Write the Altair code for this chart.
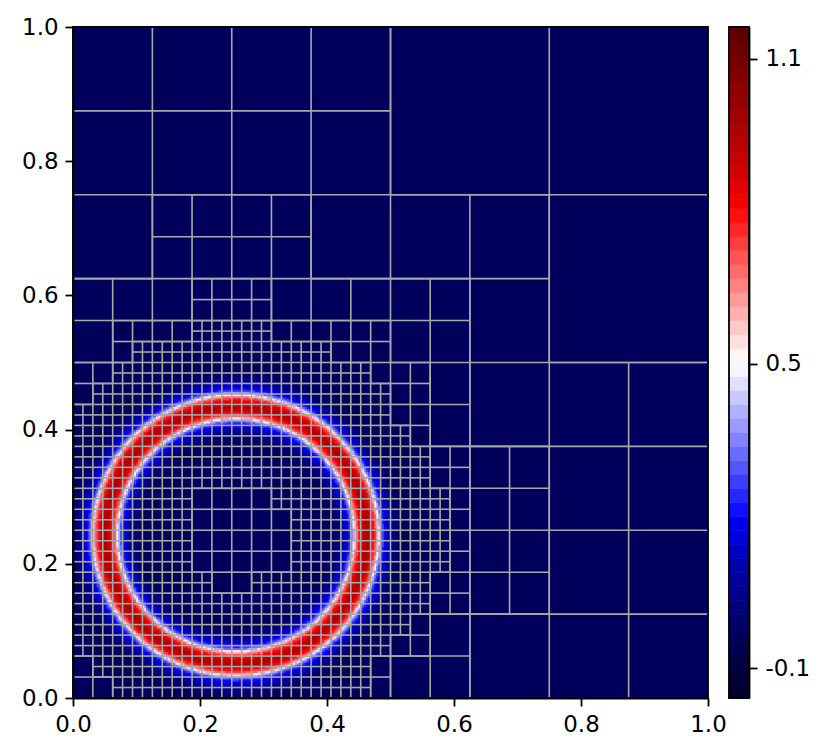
import altair as alt
import numpy as np
import pandas as pd

alt.data_transformers.disable_max_rows()

# refinement level of each 1/32 x 1/32 block, top row (y near 1) first
level_rows = [
    "33333333333333332222222222222222",
    "33333333333333332222222222222222",
    "33333333333333332222222222222222",
    "33333333333333332222222222222222",
    "33333333333333332222222222222222",
    "33333333333333332222222222222222",
    "33333333333333332222222222222222",
    "33333333333333332222222222222222",
    "33334444444433333333333322222222",
    "33334444444433333333333322222222",
    "33334444444433333333333322222222",
    "33334444444433333333333322222222",
    "44444455554444444444333322222222",
    "44444455554444444444333322222222",
    "44555566665555554444333322222222",
    "44566666666665554444333322222222",
    "55666666666666655544333333333333",
    "56666666666666665544333333333333",
    "66666666666666665544333333333333",
    "66666666666666666544333333333333",
    "66666666666666666655444433333333",
    "66666666666666666655444433333333",
    "66666655556666666665444433333333",
    "66666655555666666665444433333333",
    "66666655555666666665444433333333",
    "66666655555666666665444433333333",
    "66666665566666666655444433333333",
    "66666666666666666655444433333333",
    "66666666666666666544333333333333",
    "66666666666666665544333333333333",
    "56666666666666654444333333333333",
    "55666666666666654444333333333333",
]

# colour bands of the bar, lowest first
band_colors = [
    "#00002e", "#000038", "#000042", "#00004e", "#00005c", "#00006c", "#00007c", "#00008c",
    "#00009c", "#0000ac", "#0000c4", "#0000dc", "#0000f0", "#0f0fff", "#2626ff", "#3d3dff",
    "#5555ff", "#6b6bff", "#8383ff", "#9a9aff", "#b0b0ff", "#c9c9ff", "#dfdfff", "#f5f5ff",
    "#fff5f5", "#ffdfdf", "#ffc9c9", "#ffb0b0", "#ff9a9a", "#ff8383", "#ff6b6b", "#ff5555",
    "#ff3d3d", "#ff2626", "#ff0f0f", "#f50000", "#e30000", "#d30000", "#c80000", "#bc0000",
    "#b00000", "#a40000", "#980000", "#8c0000", "#800000", "#740000", "#6a0000", "#600000",
]
bar_min, bar_max = -0.159, 1.163
bar_ticks = [-0.1, 0.5, 1.1]
axis_ticks = [0.0, 0.2, 0.4, 0.6, 0.8, 1.0]

# ring: field value by distance from its centre
ring_center = (0.257, 0.243)
ring_squash = 0.93
ring_radius_start = 0.1415
ring_radius_step = 0.002
ring_value = [-0.03, -0.02, -0.01, 0.00, 0.02, 0.04, 0.06, 0.08, 0.10, 0.12,
              0.15, 0.18, 0.22, 0.27, 0.33, 0.41, 0.50, 0.60, 0.68, 0.74,
              0.79, 0.83, 0.87, 0.91, 0.94,
              0.96,
              0.94, 0.91, 0.87, 0.83, 0.79, 0.74, 0.68, 0.60, 0.50, 0.41,
              0.33, 0.27, 0.22, 0.18, 0.15, 0.12, 0.10, 0.08, 0.06, 0.04,
              0.02, 0.00, -0.01, -0.02, -0.03]
background_value = -0.03

PLOT_W, PLOT_H = 635, 671
FONT = "DejaVu Sans"
FS = 22.9

edges = list(np.linspace(bar_min, bar_max, len(band_colors) + 1))
color_scale = alt.Scale(type="threshold", domain=edges[1:-1], range=band_colors)

# field cells
cells = [dict(a=0, b=1, c=0, d=1, v=background_value)]
n = 320
for i in range(n):
    for j in range(n):
        xc, yc = (i + 0.5) / n, (j + 0.5) / n
        r = np.hypot((xc - ring_center[0]) * ring_squash, yc - ring_center[1])
        k = int(round((r - ring_radius_start) / ring_radius_step))
        if 0 <= k < len(ring_value):
            cells.append(dict(a=i / n, b=(i + 1) / n, c=j / n, d=(j + 1) / n, v=ring_value[k]))
field_df = pd.DataFrame(cells).round(5)

# mesh edges
segs = set()
for row_i, row in enumerate(level_rows):
    r = 31 - row_i
    for c, ch in enumerate(row):
        lev = int(ch)
        if lev == 6:
            boxes = [((c * 2 + a) / 64, (r * 2 + b) / 64, 1 / 64) for a in (0, 1) for b in (0, 1)]
        else:
            size = 2 ** (5 - lev)
            boxes = [((c // size) * size / 32, (r // size) * size / 32, size / 32)]
        for x, y, s in boxes:
            segs.add((x, y, x + s, y))
            segs.add((x, y + s, x + s, y + s))
            segs.add((x, y, x, y + s))
            segs.add((x + s, y, x + s, y + s))
segs = [s for s in segs if not (s[0] == s[2] and s[0] in (0, 1)) and not (s[1] == s[3] and s[1] in (0, 1))]
seg_df = pd.DataFrame(segs, columns=["x1", "y1", "x2", "y2"])

x_scale = alt.Scale(domain=[0, 1], nice=False, zero=False)
y_scale = alt.Scale(domain=[0, 1], nice=False, zero=False)
axis_style = dict(
    values=axis_ticks, format=".1f", title=None, grid=False, tickSize=8, tickWidth=1.8, tickColor="black",
    domainColor="black", domainWidth=1.8, labelColor="black", labelFont=FONT, labelFontSize=FS, labelPadding=7,
    zindex=1, labelFlush=False, labelOverlap=False,
)

field = alt.Chart(field_df).mark_rect(strokeWidth=0.6).encode(
    x=alt.X("a:Q", scale=x_scale, axis=alt.Axis(**axis_style)),
    x2="b:Q",
    y=alt.Y("c:Q", scale=y_scale, axis=alt.Axis(**axis_style)),
    y2="d:Q",
    color=alt.Color("v:Q", scale=color_scale, legend=None),
    stroke=alt.Color("v:Q", scale=color_scale, legend=None),
)
mesh = alt.Chart(seg_df).mark_rule(color="#a8a8a8", strokeWidth=1.6).encode(
    x=alt.X("x1:Q", scale=x_scale), x2="x2:Q",
    y=alt.Y("y1:Q", scale=y_scale), y2="y2:Q",
)
frame_df = pd.DataFrame({"a": [0], "b": [1], "c": [0], "d": [1]})
frame = alt.Chart(frame_df).mark_rect(filled=False, stroke="black", strokeWidth=1.8).encode(
    x=alt.X("a:Q", scale=x_scale), x2="b:Q",
    y=alt.Y("c:Q", scale=y_scale), y2="d:Q",
)
main = alt.layer(field, mesh, frame).properties(width=PLOT_W, height=PLOT_H)

bar_df = pd.DataFrame({"lo": edges[:-1], "hi": edges[1:]})
bar_df["mid"] = (bar_df.lo + bar_df.hi) / 2
bar_scale = alt.Scale(domain=[bar_min, bar_max], nice=False, zero=False)
bar_axis = dict(axis_style)
bar_axis.update(
    values=bar_ticks, orient="right", labelPadding=8,
    labelExpr="datum.value < 0 ? '-' + format(-datum.value, '.1f') : format(datum.value, '.1f')",
)
bar = alt.Chart(bar_df).mark_rect(strokeWidth=0.7).encode(
    y=alt.Y("lo:Q", scale=bar_scale, axis=alt.Axis(**bar_axis)),
    y2="hi:Q",
    color=alt.Color("mid:Q", scale=color_scale, legend=None),
    stroke=alt.Color("mid:Q", scale=color_scale, legend=None),
)
bar_frame = alt.Chart(pd.DataFrame({"lo": [bar_min], "hi": [bar_max]})).mark_rect(
    filled=False, stroke="black", strokeWidth=1.8
).encode(y=alt.Y("lo:Q", scale=bar_scale), y2="hi:Q")
colorbar = alt.layer(bar, bar_frame).properties(width=20, height=PLOT_H)

chart = alt.hconcat(main, colorbar, spacing=21, bounds="flush").resolve_scale(color="independent", y="independent", x="independent").properties(
    padding={"left": 13, "top": 7, "right": 0, "bottom": 0}
).configure_view(stroke=None).configure(background="white")

chart.save("out.html", embed_options={"renderer": "svg", "actions": False})
